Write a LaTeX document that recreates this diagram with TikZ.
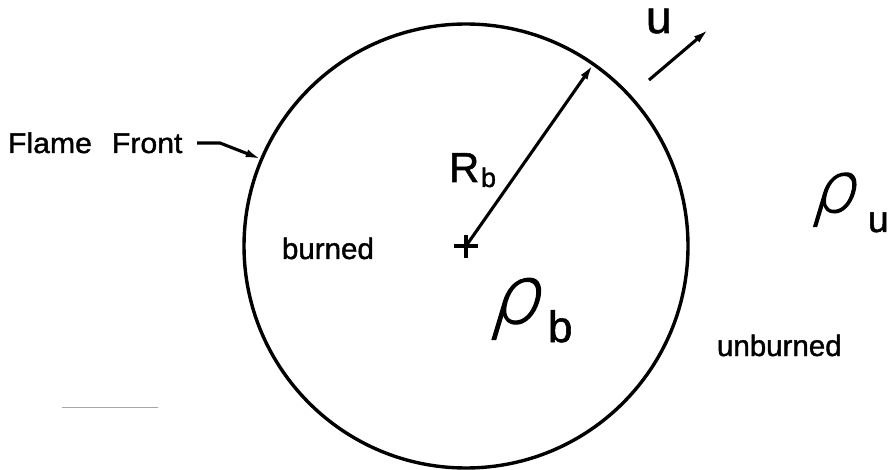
\documentclass[tikz,border=0pt]{standalone}
\usepackage{fontspec}
\setmainfont{Liberation Sans}[FakeBold=1.3]
\newfontfamily\widefont{Liberation Sans}[FakeBold=1.3,FakeStretch=1.06]
\newfontfamily\rhofont{DejaVu Sans ExtraLight}[FakeSlant=0.3,FakeBold=1.5]
\usetikzlibrary{arrows.meta}
\begin{document}
\begin{tikzpicture}[x=1pt,y=-1pt,
  lbl/.style={inner sep=0pt, outer sep=0pt, anchor=base west},
  tip/.style={-{Latex[length=16pt,width=8pt]}},
  stroke/.style={line width=3.1pt}]
\useasboundingbox (0,0) rectangle (894,470);
% flame front circle
\node[circle, draw, line width=3.4pt, minimum size=444pt, inner sep=0pt, outer sep=0pt] (front) at (466,246) {};
\coordinate (c) at (466,246);
% center plus
\coordinate (pl) at (454,246);
\coordinate (pr) at (478,246);
\coordinate (pt) at (466,235);
\coordinate (pb) at (466,258);
\draw[stroke] (pl) -- (pr);
\draw[stroke] (pt) -- (pb);
% radius arrow
\draw[stroke, tip] (c) -- (front.55);
\node[lbl, font=\fontsize{42}{42}\selectfont] (R) at (449,182) {R};
\node[lbl, font=\fontsize{27}{27}\selectfont] (Rb) at (481,187) {b};
% velocity arrow
\coordinate (u1) at (649,80);
\coordinate (u2) at (709,29);
\draw[stroke, tip] (u1) -- (u2);
\node[lbl, font=\fontsize{46}{46}\selectfont] (u) at (646,33) {u};
% flame front label
\node[lbl, font=\widefont\fontsize{28.5}{28.5}\selectfont] (ff) at (8,153) {Flame\hspace{20pt}Front};
\coordinate (l1) at (197,143);
\coordinate (l2) at (220,143);
\draw[stroke, tip] (l1) -- (l2) -- (front.157);
% region labels
\node[lbl, font=\fontsize{29.5}{29.5}\selectfont] (burned) at (282,259) {burned};
\node[lbl, font=\fontsize{29.5}{29.5}\selectfont] (unburned) at (717,356) {unburned};
% densities
\node[lbl, font=\rhofont\fontsize{80}{80}\selectfont] (rhob) at (488,323) {ρ};
\node[lbl, font=\fontsize{44}{44}\selectfont] (b) at (548,342) {b};
\node[lbl, font=\rhofont\fontsize{70}{70}\selectfont] (rhou) at (810,212) {ρ};
\node[lbl, font=\fontsize{37}{37}\selectfont] (uu) at (868,232) {u};
% faint scan line
\coordinate (s1) at (62,407);
\coordinate (s2) at (158,407);
\draw[gray!70, line width=1pt] (s1) -- (s2);
\end{tikzpicture}
\end{document}
